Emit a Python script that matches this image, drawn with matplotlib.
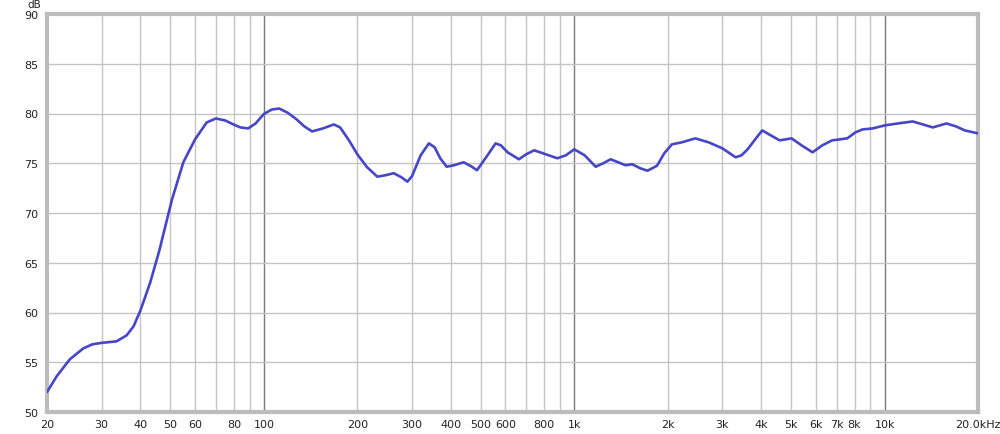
import numpy as np
import matplotlib
matplotlib.use("Agg")
import matplotlib.pyplot as plt

# frequency response (Hz, dB)
freq = [20, 21.5, 23.7, 26.2, 28, 30, 33.5, 36.1, 38, 40, 43, 46, 50.5, 55, 60,
        65.4, 70, 75, 79.8, 84, 89, 94, 100, 106, 112, 119, 127, 135, 143, 155,
        168, 176, 188, 200, 215, 232, 247, 262, 277, 290, 300, 320, 340, 355,
        370, 388, 410, 440, 465, 486, 520, 558, 580, 610, 663, 700, 743, 810,
        882, 940, 1000, 1080, 1172, 1240, 1310, 1464, 1538, 1630, 1722, 1848,
        1950, 2064, 2220, 2456, 2712, 3000, 3312, 3460, 3620, 3850, 4034, 4300,
        4592, 5016, 5400, 5860, 6300, 6774, 7580, 8050, 8490, 9160, 10000,
        11020, 12320, 13300, 14300, 15820, 17000, 18140, 20000]
level = [52.0, 53.6, 55.3, 56.4, 56.8, 56.95, 57.1, 57.7, 58.6, 60.2, 63.0, 66.2,
         71.3, 75.1, 77.4, 79.1, 79.5, 79.3, 78.9, 78.6, 78.5, 79.0, 79.95, 80.4,
         80.5, 80.1, 79.45, 78.7, 78.2, 78.5, 78.9, 78.6, 77.3, 75.9, 74.6, 73.65,
         73.8, 74.0, 73.6, 73.15, 73.7, 75.8, 77.0, 76.6, 75.5, 74.65, 74.8, 75.1,
         74.7, 74.3, 75.6, 77.0, 76.8, 76.1, 75.4, 75.9, 76.3, 75.9, 75.5, 75.8,
         76.4, 75.8, 74.65, 75.0, 75.4, 74.8, 74.9, 74.5, 74.25, 74.75, 76.0, 76.9,
         77.1, 77.5, 77.1, 76.5, 75.6, 75.8, 76.4, 77.5, 78.3, 77.8, 77.3, 77.5,
         76.8, 76.1, 76.8, 77.3, 77.5, 78.1, 78.4, 78.5, 78.8, 79.0, 79.2, 78.9,
         78.6, 79.0, 78.7, 78.3, 78.0]

x_ticks = [20, 30, 40, 50, 60, 80, 100, 200, 300, 400, 500, 600, 800,
           1000, 2000, 3000, 4000, 5000, 6000, 7000, 8000, 10000, 20000]
x_labels = ["20", "30", "40", "50", "60", "80", "100", "200", "300", "400",
            "500", "600", "800", "1k", "2k", "3k", "4k", "5k", "6k", "7k",
            "8k", "10k", "20.0kHz"]
y_ticks = [50, 55, 60, 65, 70, 75, 80, 85, 90]

fig = plt.figure(figsize=(10, 4.35), dpi=100)
ax = fig.add_axes([0.047, 22 / 435, 0.931, 398 / 435])

# grid
grid_freqs = [f * d for d in (10, 100, 1000) for f in range(2, 10)]
for g in grid_freqs:
    if 20 < g < 20000:
        ax.axvline(g, color="#c4c4c4", lw=1, zorder=1)
for g in (100, 1000, 10000):
    ax.axvline(g, color="#7a7a7a", lw=1, zorder=1)
for y in y_ticks[1:-1]:
    ax.axhline(y, color="#c4c4c4", lw=1, zorder=1)

ax.plot(freq, level, color="#4646c8", lw=1.9, zorder=3,
        solid_joinstyle="round", solid_capstyle="round")

ax.set_xscale("log")
ax.set_xlim(20, 20000)
ax.set_ylim(50, 90)
ax.set_xticks(x_ticks)
ax.set_xticklabels(x_labels)
ax.xaxis.set_minor_locator(matplotlib.ticker.NullLocator())
ax.set_yticks(y_ticks)
ax.tick_params(length=0, labelsize=8, colors="#222222", pad=5)
ax.tick_params(axis="y", pad=6)

for s in ax.spines.values():
    s.set_color("#bcbcbc")
    s.set_linewidth(3)

fig.text(0.047 - 0.006, 1.0, "dB", ha="right", va="top",
         fontsize=7.5, color="#222222")

fig.savefig("out.png", dpi=100)
